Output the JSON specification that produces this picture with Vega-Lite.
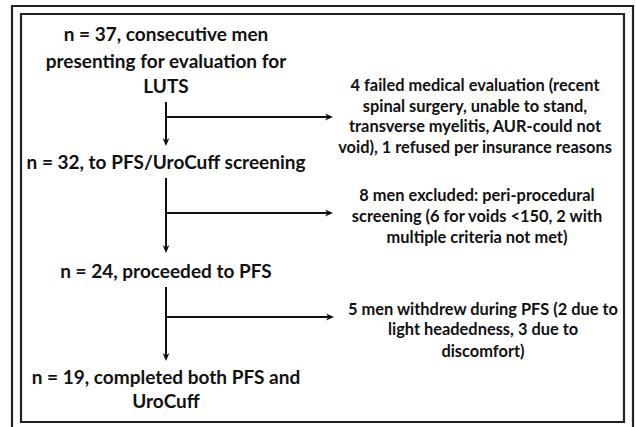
{
  "$schema": "https://vega.github.io/schema/vega-lite/v6.json",
  "width": 636,
  "height": 427,
  "autosize": {"type": "fit", "contains": "padding"},
  "padding": 0,
  "background": "white",
  "config": {"view": {"stroke": null}},
  "datasets": {
    "frames": [
      {"name": "outer", "x": 12, "x2": 633, "y": 6, "y2": 445},
      {"name": "inner", "x": 21, "x2": 624, "y": 14, "y2": 422}
    ],
    "lines": [
      {"x": 166, "y": 102, "x2": 166, "y2": 141},
      {"x": 166, "y": 117, "x2": 328, "y2": 117},
      {"x": 166, "y": 178, "x2": 166, "y2": 248},
      {"x": 166, "y": 213, "x2": 328, "y2": 213},
      {"x": 166, "y": 287, "x2": 166, "y2": 356},
      {"x": 166, "y": 317, "x2": 329, "y2": 317}
    ],
    "arrows": [
      {"x": 166, "y": 146, "angle": 90},
      {"x": 166, "y": 253, "angle": 90},
      {"x": 166, "y": 361, "angle": 90},
      {"x": 333, "y": 117, "angle": 0},
      {"x": 333, "y": 213, "angle": 0},
      {"x": 334, "y": 317, "angle": 0}
    ],
    "texts": [
      {"group": "left", "x": 166, "y": 35, "text": "n = 37, consecutive men"},
      {"group": "left", "x": 166, "y": 62, "text": "presenting for evaluation for"},
      {"group": "left", "x": 166, "y": 87, "text": "LUTS"},
      {"group": "left", "x": 166, "y": 163, "text": "n = 32, to PFS/UroCuff screening"},
      {"group": "left", "x": 166, "y": 272, "text": "n = 24, proceeded to PFS"},
      {"group": "left", "x": 166, "y": 378, "text": "n = 19, completed both PFS and"},
      {"group": "left", "x": 166, "y": 402, "text": "UroCuff"},
      {"group": "right", "x": 475, "y": 86, "text": "4 failed medical evaluation (recent"},
      {"group": "right", "x": 475, "y": 107, "text": "spinal surgery, unable to stand,"},
      {"group": "right", "x": 475, "y": 127, "text": "transverse myelitis, AUR-could not"},
      {"group": "right", "x": 475, "y": 148, "text": "void), 1 refused per insurance reasons"},
      {"group": "right", "x": 477, "y": 196, "text": "8 men excluded: peri-procedural"},
      {"group": "right", "x": 477, "y": 217, "text": "screening (6 for voids <150, 2 with"},
      {"group": "right", "x": 477, "y": 238, "text": "multiple criteria not met)"},
      {"group": "right", "x": 483, "y": 310, "text": "5 men withdrew during PFS (2 due to"},
      {"group": "right", "x": 483, "y": 330, "text": "light headedness, 3 due to"},
      {"group": "right", "x": 483, "y": 352, "text": "discomfort)"}
    ]
  },
  "layer": [
    {
      "data": {"name": "frames"},
      "mark": {"type": "rect", "fill": null, "filled": false, "stroke": "#222222", "strokeWidth": 2.2, "clip": true},
      "encoding": {
        "x": {"field": "x", "type": "quantitative", "scale": {"domain": [0, 636], "nice": false, "zero": false}, "axis": null},
        "x2": {"field": "x2"},
        "y": {"field": "y", "type": "quantitative", "scale": {"domain": [0, 427], "reverse": true, "nice": false, "zero": false}, "axis": null},
        "y2": {"field": "y2"}
      }
    },
    {
      "data": {"name": "lines"},
      "mark": {"type": "rule", "stroke": "#111111", "strokeWidth": 2},
      "encoding": {
        "x": {"field": "x", "type": "quantitative"},
        "x2": {"field": "x2"},
        "y": {"field": "y", "type": "quantitative"},
        "y2": {"field": "y2"}
      }
    },
    {
      "data": {"name": "arrows"},
      "mark": {"type": "point", "filled": true, "color": "#111111", "opacity": 1, "shape": "M0,0 L-2,-0.85 L-1.4,0 L-2,0.85 Z", "size": 64},
      "encoding": {
        "x": {"field": "x", "type": "quantitative"},
        "y": {"field": "y", "type": "quantitative"},
        "angle": {"field": "angle", "type": "quantitative", "scale": null}
      }
    },
    {
      "data": {"name": "texts"},
      "transform": [{"filter": "datum.group === 'left'"}],
      "mark": {"type": "text", "font": "Lato", "fontWeight": "bold", "fontSize": 19, "align": "center", "baseline": "middle", "color": "#111111"},
      "encoding": {
        "x": {"field": "x", "type": "quantitative"},
        "y": {"field": "y", "type": "quantitative"},
        "text": {"field": "text"}
      }
    },
    {
      "data": {"name": "texts"},
      "transform": [{"filter": "datum.group === 'right'"}],
      "mark": {"type": "text", "font": "Lato", "fontWeight": "bold", "fontSize": 16.4, "align": "center", "baseline": "middle", "color": "#111111"},
      "encoding": {
        "x": {"field": "x", "type": "quantitative"},
        "y": {"field": "y", "type": "quantitative"},
        "text": {"field": "text"}
      }
    }
  ]
}
